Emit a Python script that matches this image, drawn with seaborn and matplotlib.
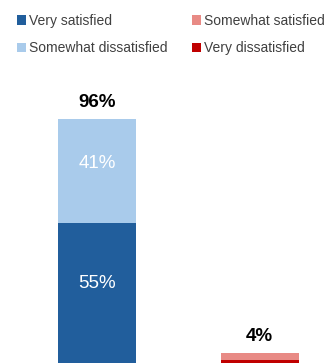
import matplotlib
matplotlib.use("Agg")
import matplotlib.pyplot as plt
from matplotlib.patches import Patch
import seaborn as sns
import pandas as pd
import numpy as np

categories = ["Satisfied", "Dissatisfied"]
series_names = ["Very satisfied", "Very dissatisfied", "Somewhat satisfied", "Somewhat dissatisfied"]
very_satisfied = [55, 0]
very_dissatisfied = [0, 1]
somewhat_satisfied = [0, 3]
somewhat_dissatisfied = [41, 0]
totals = [96, 4]
total_labels = ["96%", "4%"]

colors = {
    "Very satisfied": "#215E9C",
    "Somewhat satisfied": "#E88A85",
    "Somewhat dissatisfied": "#A9CBEB",
    "Very dissatisfied": "#C00000",
}

sns.set_theme(style="white")
plt.rcParams['font.family'] = ['Liberation Sans', 'DejaVu Sans']

values = {
    "Very satisfied": very_satisfied,
    "Very dissatisfied": very_dissatisfied,
    "Somewhat satisfied": somewhat_satisfied,
    "Somewhat dissatisfied": somewhat_dissatisfied,
}

fig = plt.figure(figsize=(3.35, 3.63), dpi=100)
top_px = 70
ax = fig.add_axes([0, 0, 1, (363 - top_px) / 363])

# cumulative stacks, draw tallest first
cum = np.zeros(len(categories))
cums = []
for name in series_names:
    cum = cum + np.array(values[name])
    cums.append((name, cum.copy()))

for name, c in reversed(cums):
    df = pd.DataFrame({"cat": categories, "val": c})
    sns.barplot(data=df, x="cat", y="val", color=colors[name], width=0.48,
                ax=ax, saturation=1, edgecolor="none", linewidth=0)

# inside labels
bottom = np.zeros(len(categories))
for name in series_names:
    v = np.array(values[name])
    for i, val in enumerate(v):
        if val >= 10:
            ax.text(i, bottom[i] + val * 0.57, f"{val}%", ha="center", va="center",
                    color="white", fontsize=13.5)
    bottom = bottom + v

for i, t in enumerate(totals):
    ax.annotate(total_labels[i], (i, t), xytext=(0, 12), textcoords="offset points",
                ha="center", va="center", fontsize=13.5, fontweight="bold", color="black")

ax.set_xlim(-97 / 162.5, (335 - 97) / 162.5)
ax.set_ylim(0, (363 - top_px) / 2.54)
ax.axis("off")

legend_order = ["Very satisfied", "Somewhat dissatisfied", "Somewhat satisfied", "Very dissatisfied"]
handles = [Patch(facecolor=colors[n], edgecolor="none") for n in legend_order]
fig.legend(handles, legend_order, ncol=2, loc="upper left",
           bbox_to_anchor=(17 / 335, 1 - 14 / 363), frameon=False,
           fontsize=10, handlelength=0.65, handleheight=0.65, handletextpad=0.2,
           columnspacing=1.8, labelspacing=0.95, borderpad=0, borderaxespad=0,
           labelcolor="#404040")

fig.savefig("out.png", dpi=100)
